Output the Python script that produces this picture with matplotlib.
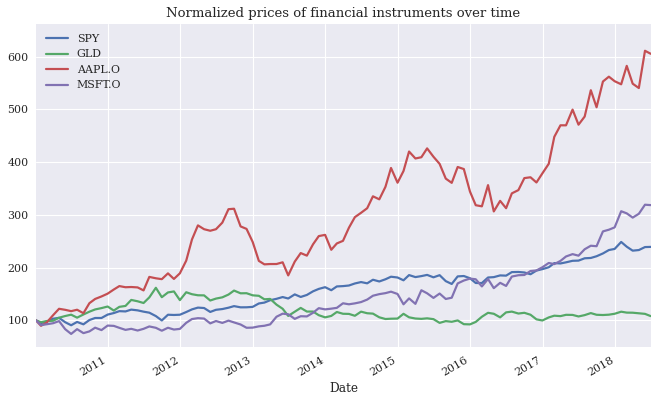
import pandas as pd
import matplotlib
matplotlib.use('Agg')
import matplotlib.pyplot as plt
import matplotlib.dates as mdates

plt.style.use('seaborn-v0_8')
plt.rcParams['font.family'] = 'serif'

# month-end closes, first value is 2010-01-04 (base for normalization)
spy = [113.33,
       107.4, 110.7, 117.0, 118.8, 109.4, 102.9, 110.0, 104.9, 114.1, 118.5, 118.5, 125.8,
       129.1, 133.2, 132.6, 136.5, 134.9, 132.1, 129.9, 122.6, 113.2, 125.5, 125.0, 125.5,
       131.3, 137.0, 140.8, 139.9, 131.5, 136.1, 137.7, 140.6, 144.0, 141.4, 141.5, 142.4,
       149.7, 151.6, 156.7, 159.7, 163.5, 160.4, 169.2, 163.7, 168.0, 175.8, 181.0, 184.7,
       178.2, 186.3, 187.0, 188.3, 192.7, 195.7, 193.0, 200.7, 197.0, 201.7, 207.2, 205.5,
       199.5, 210.7, 206.4, 208.5, 211.1, 205.9, 210.5, 197.7, 191.6, 207.9, 208.7, 203.9,
       193.7, 193.6, 205.5, 206.3, 210.0, 209.5, 217.1, 217.4, 216.3, 212.5, 220.4, 223.5,
       227.5, 236.5, 235.7, 238.1, 241.4, 241.8, 246.8, 247.5, 251.2, 257.2, 264.5, 266.9,
       281.9, 271.7, 263.2, 264.5, 270.9, 271.3]
gld = [109.8,
       106.0, 108.4, 109.0, 115.4, 118.9, 121.7, 115.5, 122.1, 127.9, 132.6, 135.4, 138.7,
       130.3, 138.0, 139.9, 152.4, 149.6, 146.0, 157.7, 177.7, 158.1, 168.0, 170.1, 152.0,
       168.4, 164.3, 162.1, 161.9, 151.2, 155.2, 157.8, 163.6, 171.9, 166.2, 166.4, 162.0,
       161.0, 153.7, 154.5, 142.6, 134.0, 119.1, 127.9, 135.8, 128.2, 128.2, 120.6, 116.1,
       119.1, 127.3, 123.6, 123.3, 119.4, 128.0, 124.7, 123.9, 116.2, 112.7, 113.3, 113.6,
       123.5, 116.2, 113.7, 113.0, 114.1, 112.4, 104.6, 108.3, 106.9, 109.7, 101.9, 101.5,
       106.6, 117.4, 125.6, 123.6, 116.1, 126.5, 128.1, 124.1, 125.6, 121.6, 112.0, 109.6,
       116.0, 119.6, 118.7, 121.4, 121.2, 118.0, 120.8, 125.0, 121.5, 121.0, 121.7, 123.6,
       127.9, 126.0, 125.8, 124.6, 123.4, 118.7]
aapl = [30.57,
        27.44, 29.23, 33.57, 37.30, 36.70, 35.93, 36.75, 34.73, 40.54, 43.00, 44.45, 46.08,
        48.47, 50.46, 49.79, 49.92, 49.69, 47.95, 55.78, 54.98, 54.47, 57.83, 54.60, 57.86,
        65.21, 77.49, 85.65, 83.43, 82.53, 83.43, 87.25, 95.03, 95.30, 85.05, 83.61, 76.02,
        65.07, 63.06, 63.24, 63.25, 64.25, 56.65, 64.65, 69.60, 68.11, 74.67, 79.44, 80.15,
        71.51, 75.18, 76.68, 84.30, 90.43, 92.93, 95.60, 102.50, 100.75, 108.00, 118.93, 110.38,
        117.16, 128.46, 124.43, 125.15, 130.28, 125.43, 121.30, 112.76, 110.30, 119.50, 118.30, 105.26,
        97.34, 96.69, 108.99, 93.74, 99.86, 95.60, 104.21, 106.10, 113.05, 113.54, 110.52, 115.82,
        121.35, 136.99, 143.66, 143.65, 152.76, 144.02, 148.73, 164.00, 154.12, 169.04, 171.85, 169.23,
        167.43, 178.12, 167.78, 165.26, 186.87, 185.11]
msft = [30.95,
        28.18, 28.67, 29.29, 30.54, 25.80, 23.01, 25.81, 23.47, 24.49, 26.67, 25.26, 27.91,
        27.73, 26.58, 25.39, 26.00, 25.01, 26.00, 27.40, 26.60, 24.89, 26.63, 25.58, 25.96,
        29.53, 31.74, 32.26, 32.02, 29.19, 30.59, 29.47, 30.82, 29.76, 28.54, 26.62, 26.71,
        27.45, 27.80, 28.61, 33.10, 34.90, 34.55, 31.84, 33.40, 33.28, 35.41, 38.13, 37.41,
        37.84, 38.31, 40.99, 40.40, 40.94, 41.70, 43.16, 45.43, 46.36, 46.95, 47.81, 46.45,
        40.40, 43.85, 40.66, 48.64, 46.86, 44.15, 46.70, 43.52, 44.26, 52.64, 54.35, 55.48,
        55.09, 50.88, 55.23, 49.87, 53.00, 51.17, 56.68, 57.46, 57.60, 59.92, 60.26, 62.14,
        64.65, 63.98, 65.86, 68.46, 69.84, 68.93, 72.70, 74.77, 74.49, 83.18, 84.17, 85.54,
        95.01, 93.77, 91.27, 93.52, 98.84, 98.61]

symbols = ['SPY', 'GLD', 'AAPL.O', 'MSFT.O']

dates = [pd.Timestamp('2010-01-04')] + list(pd.date_range('2010-01-01', '2018-06-30', freq='BME'))
data = pd.DataFrame({'SPY': spy, 'GLD': gld, 'AAPL.O': aapl, 'MSFT.O': msft}, index=dates)
norm = data / data.iloc[0] * 100

dpi = 79.2
fig = plt.figure(figsize=(662 / dpi, 399 / dpi), dpi=dpi)
ax = fig.add_axes([0.0544, 0.1296, 0.9286, 0.8102])
for s in symbols:
    ax.plot(norm.index, norm[s], label=s, lw=2.0)

ax.set_xlim(pd.Timestamp('2010-01-04'), pd.Timestamp('2018-06-29'))
ax.set_ylim(49, 662)
ax.xaxis.set_major_locator(mdates.YearLocator())
ax.xaxis.set_major_formatter(mdates.DateFormatter('%Y'))
for lbl in ax.get_xticklabels():
    lbl.set_rotation(30)
    lbl.set_ha('right')
ax.set_xlabel('Date')
ax.set_title('Normalized prices of financial instruments over time')
ax.legend(loc='upper left')

fig.savefig('out.png', dpi=dpi)
